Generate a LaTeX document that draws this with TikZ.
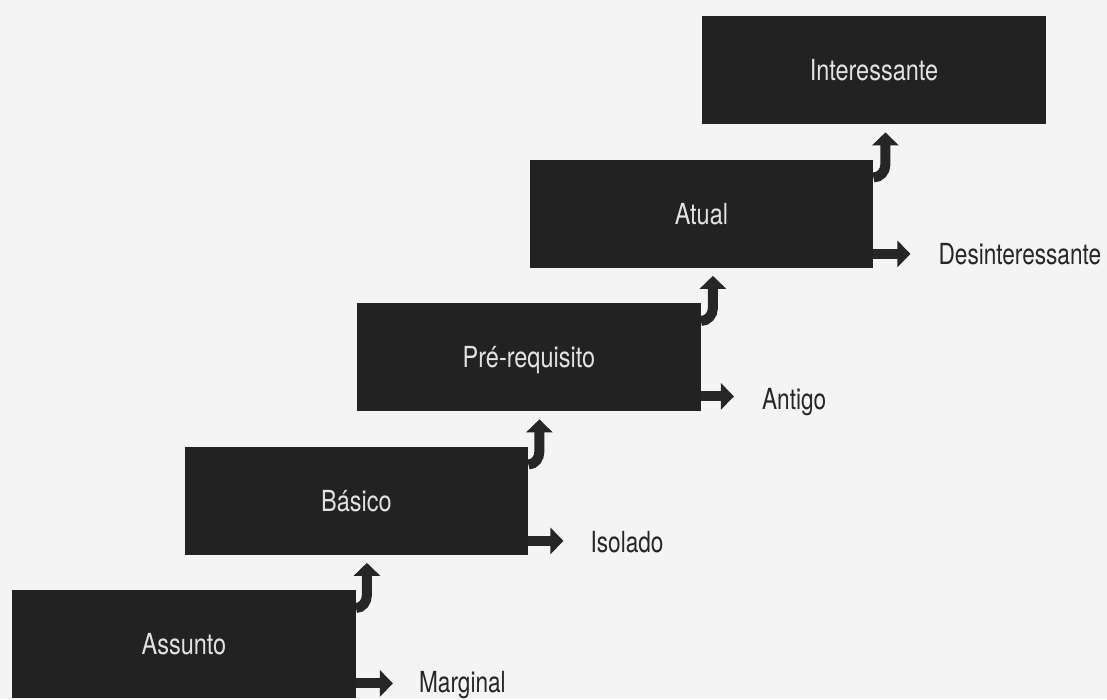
\documentclass[tikz,border=0pt]{standalone}
\usepackage{fontspec}
\setmainfont[FakeStretch=0.81]{TeX Gyre Heros}
\newfontfamily\outfont[FakeStretch=0.78]{TeX Gyre Heros}
\usetikzlibrary{arrows.meta}
\definecolor{bg}{HTML}{F4F4F4}
\definecolor{boxgray}{HTML}{222222}
\definecolor{boxtext}{HTML}{E2E2E2}
\definecolor{ink}{HTML}{262626}
\begin{document}
\begin{tikzpicture}[x=1pt,y=1pt,
  stage/.style={fill=boxgray, draw=none, minimum width=343.5pt, minimum height=108pt,
    inner sep=0pt, text=boxtext, text height=21pt, text depth=0pt,
    font=\fontsize{29}{32}\selectfont, anchor=north west},
  outlabel/.style={anchor=base west, text=ink, font=\outfont\fontsize{29}{32}\selectfont, inner sep=0pt},
  rarrow/.style={draw=ink, line width=10pt, -{Triangle[width=26pt,length=13pt]}},
  uarrow/.style={draw=ink, line width=10pt, -{Triangle[width=26pt,length=13pt]}}]
\fill[bg] (0,0) rectangle (1107,699);
\useasboundingbox (0,0) rectangle (1107,699);

% stages
\node[stage] (assunto) at (12,109) {Assunto};
\node[stage] (basico) at (184.5,252.5) {Básico};
\node[stage] (pre) at (357,396) {Pré-requisito};
\node[stage] (atual) at (529.5,539.5) {Atual};
\node[stage] (inter) at (702,683) {Interessante};

% side outcomes
\coordinate (m0) at ([yshift=15pt]assunto.south east);
\node[outlabel] (marginal) at ([xshift=63pt,yshift=-9pt]m0) {Marginal};
\draw[rarrow] (m0) -- ([xshift=-26pt]m0 -| marginal.west);

\coordinate (m1) at ([yshift=14pt]basico.south east);
\node[outlabel] (isolado) at ([xshift=62pt,yshift=-12pt]m1) {Isolado};
\draw[rarrow] (m1) -- ([xshift=-27pt]m1 -| isolado.west);

\coordinate (m2) at ([yshift=15pt]pre.south east);
\node[outlabel] (antigo) at ([xshift=61pt,yshift=-13pt]m2) {Antigo};
\draw[rarrow] (m2) -- ([xshift=-28pt]m2 -| antigo.west);

\coordinate (m3) at ([yshift=14pt]atual.south east);
\node[outlabel] (desint) at ([xshift=65pt,yshift=-11pt]m3) {Desinteressante};
\draw[rarrow] (m3) -- ([xshift=-28pt]m3 -| desint.west);

% upward steps
\coordinate (u0) at ([xshift=11pt]assunto.north east);
\draw[uarrow] ([yshift=-18pt]assunto.north east) to[out=0,in=-90] ([yshift=-5pt]u0)
  -- ([yshift=-8pt]u0 |- basico.south);
\coordinate (u1) at ([xshift=11pt]basico.north east);
\draw[uarrow] ([yshift=-18pt]basico.north east) to[out=0,in=-90] ([yshift=-5pt]u1)
  -- ([yshift=-8pt]u1 |- pre.south);
\coordinate (u2) at ([xshift=12pt]pre.north east);
\draw[uarrow] ([yshift=-18pt]pre.north east) to[out=0,in=-90] ([yshift=-5pt]u2)
  -- ([yshift=-8pt]u2 |- atual.south);
\coordinate (u3) at ([xshift=12pt]atual.north east);
\draw[uarrow] ([yshift=-18pt]atual.north east) to[out=0,in=-90] ([yshift=-5pt]u3)
  -- ([yshift=-8pt]u3 |- inter.south);
\end{tikzpicture}
\end{document}
